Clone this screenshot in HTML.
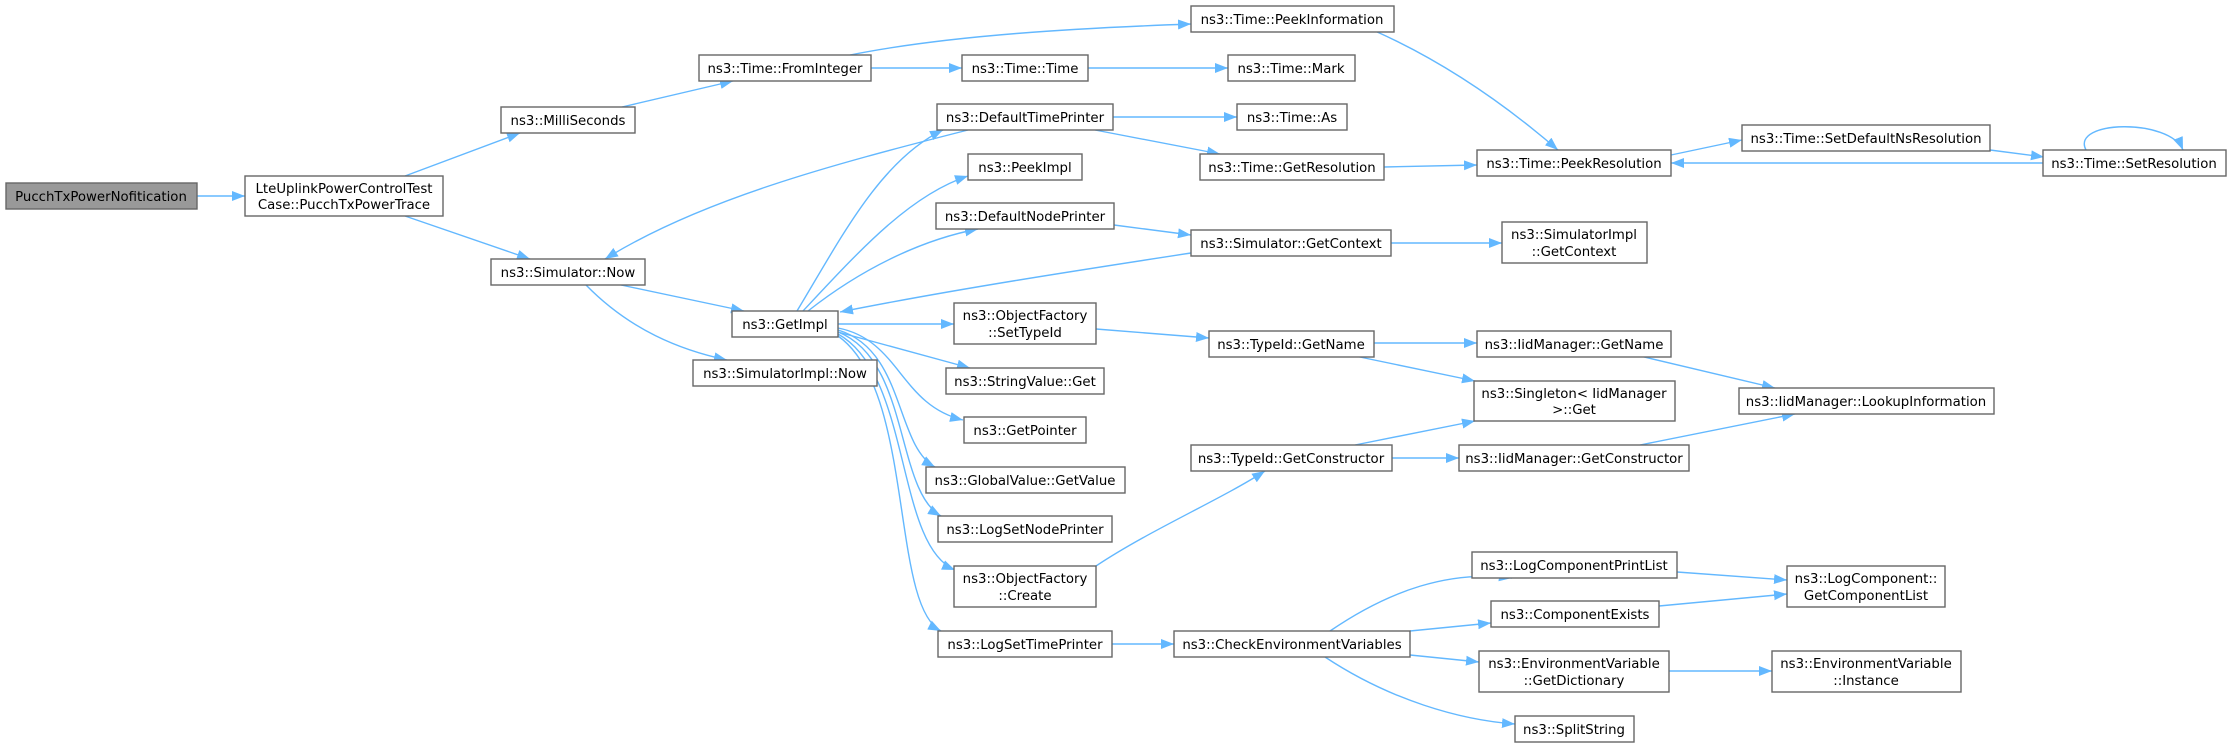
<!DOCTYPE html>
<html><head><meta charset="utf-8"><style>
html,body{margin:0;padding:0;background:#fff;}
svg{display:block;}
text{font-family:"DejaVu Sans","Liberation Sans",sans-serif;font-size:13.3px;fill:#000;text-anchor:middle;}
.b{fill:#fff;stroke:#666;stroke-width:1.4;}
.r{fill:#999;stroke:#666;stroke-width:1.4;}
.e{fill:none;stroke:#63b8ff;stroke-width:1.4;marker-end:url(#a);}
</style></head><body>
<svg width="2232" height="747" viewBox="0 0 2232 747" xmlns="http://www.w3.org/2000/svg">
<defs><marker id="a" markerUnits="userSpaceOnUse" markerWidth="14" markerHeight="12" refX="13" refY="5" orient="auto"><path d="M0,0 L13,5 L0,10 z" fill="#63b8ff"/></marker></defs>
<path class="e" d="M197,196 L245,196"/>
<path class="e" d="M405,176 L520,133"/>
<path class="e" d="M405,216 L530,259"/>
<path class="e" d="M622,107 L733,81"/>
<path class="e" d="M850,55 C950,35 1080,28 1191,24"/>
<path class="e" d="M871,68 L962,68"/>
<path class="e" d="M1088,68 L1228,68"/>
<path class="e" d="M1375,31 C1440,60 1500,100 1558,150"/>
<path class="e" d="M968,130 C830,165 700,200 605,259"/>
<path class="e" d="M1113,117 L1237,117"/>
<path class="e" d="M1095,130 L1220,154"/>
<path class="e" d="M1384,167 L1477,165"/>
<path class="e" d="M1671,155 L1742,140"/>
<path class="e" d="M1990,150 L2044,157"/>
<path class="e" d="M2044,163 L1671,163"/>
<path class="e" d="M2086,150 C2070,120 2170,118 2183,150"/>
<path class="e" d="M621,285 L744,311"/>
<path class="e" d="M586,285 C630,330 680,350 727,360"/>
<path class="e" d="M797,311 C840,240 880,160 943,130"/>
<path class="e" d="M803,311 C860,250 910,195 968,176"/>
<path class="e" d="M808,311 C860,270 920,240 978,229"/>
<path class="e" d="M1191,253 C1080,270 950,290 840,312"/>
<path class="e" d="M1114,225 L1191,235"/>
<path class="e" d="M1391,243 L1502,243"/>
<path class="e" d="M838,324 L954,324"/>
<path class="e" d="M838,332 L970,368"/>
<path class="e" d="M838,328 C900,340 900,405 963,420"/>
<path class="e" d="M838,330 C905,350 895,445 935,467"/>
<path class="e" d="M838,332 C910,360 895,490 941,516"/>
<path class="e" d="M838,334 C912,375 895,545 955,570"/>
<path class="e" d="M838,336 C915,390 890,605 941,631"/>
<path class="e" d="M1096,329 L1209,338"/>
<path class="e" d="M1374,343 L1477,343"/>
<path class="e" d="M1355,356 L1475,381"/>
<path class="e" d="M1640,356 L1775,388"/>
<path class="e" d="M1096,566 C1150,530 1220,500 1265,471"/>
<path class="e" d="M1355,445 L1475,421"/>
<path class="e" d="M1392,458 L1459,458"/>
<path class="e" d="M1640,445 L1795,414"/>
<path class="e" d="M1112,644 L1174,644"/>
<path class="e" d="M1330,631 C1390,590 1450,570 1512,578"/>
<path class="e" d="M1410,631 L1491,623"/>
<path class="e" d="M1410,655 L1479,662"/>
<path class="e" d="M1325,657 C1390,700 1460,720 1515,724"/>
<path class="e" d="M1677,572 L1787,580"/>
<path class="e" d="M1659,606 L1787,594"/>
<path class="e" d="M1669,671 L1772,671"/>
<rect class="r" x="6" y="183" width="191" height="26"/><text x="101" y="201">PucchTxPowerNofitication</text>
<rect class="b" x="245" y="176" width="198" height="40"/><text x="344" y="193">LteUplinkPowerControlTest</text><text x="344" y="209">Case::PucchTxPowerTrace</text>
<rect class="b" x="501" y="107" width="134" height="26"/><text x="568" y="125">ns3::MilliSeconds</text>
<rect class="b" x="699" y="55" width="172" height="26"/><text x="785" y="73">ns3::Time::FromInteger</text>
<rect class="b" x="491" y="259" width="154" height="26"/><text x="568" y="277">ns3::Simulator::Now</text>
<rect class="b" x="732" y="311" width="106" height="26"/><text x="785" y="329">ns3::GetImpl</text>
<rect class="b" x="693" y="360" width="184" height="26"/><text x="785" y="378">ns3::SimulatorImpl::Now</text>
<rect class="b" x="1191" y="6" width="203" height="26"/><text x="1292" y="24">ns3::Time::PeekInformation</text>
<rect class="b" x="962" y="55" width="126" height="26"/><text x="1025" y="73">ns3::Time::Time</text>
<rect class="b" x="1228" y="55" width="127" height="26"/><text x="1291" y="73">ns3::Time::Mark</text>
<rect class="b" x="937" y="104" width="176" height="26"/><text x="1025" y="122">ns3::DefaultTimePrinter</text>
<rect class="b" x="1237" y="104" width="110" height="26"/><text x="1292" y="122">ns3::Time::As</text>
<rect class="b" x="968" y="154" width="114" height="26"/><text x="1025" y="172">ns3::PeekImpl</text>
<rect class="b" x="1200" y="154" width="184" height="26"/><text x="1292" y="172">ns3::Time::GetResolution</text>
<rect class="b" x="1477" y="150" width="194" height="26"/><text x="1574" y="168">ns3::Time::PeekResolution</text>
<rect class="b" x="1742" y="125" width="248" height="26"/><text x="1866" y="143">ns3::Time::SetDefaultNsResolution</text>
<rect class="b" x="2043" y="150" width="183" height="26"/><text x="2134" y="168">ns3::Time::SetResolution</text>
<rect class="b" x="936" y="203" width="178" height="26"/><text x="1025" y="221">ns3::DefaultNodePrinter</text>
<rect class="b" x="1191" y="230" width="200" height="26"/><text x="1291" y="248">ns3::Simulator::GetContext</text>
<rect class="b" x="1502" y="222" width="145" height="41"/><text x="1574" y="239">ns3::SimulatorImpl</text><text x="1574" y="256">::GetContext</text>
<rect class="b" x="954" y="303" width="142" height="41"/><text x="1025" y="320">ns3::ObjectFactory</text><text x="1025" y="337">::SetTypeId</text>
<rect class="b" x="1209" y="331" width="165" height="26"/><text x="1291" y="349">ns3::TypeId::GetName</text>
<rect class="b" x="1477" y="331" width="194" height="26"/><text x="1574" y="349">ns3::IidManager::GetName</text>
<rect class="b" x="946" y="368" width="158" height="26"/><text x="1025" y="386">ns3::StringValue::Get</text>
<rect class="b" x="1474" y="381" width="201" height="40"/><text x="1574" y="398">ns3::Singleton&lt; IidManager</text><text x="1574" y="414">&gt;::Get</text>
<rect class="b" x="1739" y="388" width="255" height="26"/><text x="1866" y="406">ns3::IidManager::LookupInformation</text>
<rect class="b" x="964" y="417" width="122" height="26"/><text x="1025" y="435">ns3::GetPointer</text>
<rect class="b" x="1191" y="445" width="201" height="26"/><text x="1291" y="463">ns3::TypeId::GetConstructor</text>
<rect class="b" x="1459" y="445" width="230" height="26"/><text x="1574" y="463">ns3::IidManager::GetConstructor</text>
<rect class="b" x="926" y="467" width="199" height="26"/><text x="1025" y="485">ns3::GlobalValue::GetValue</text>
<rect class="b" x="938" y="516" width="174" height="26"/><text x="1025" y="534">ns3::LogSetNodePrinter</text>
<rect class="b" x="954" y="566" width="142" height="41"/><text x="1025" y="583">ns3::ObjectFactory</text><text x="1025" y="600">::Create</text>
<rect class="b" x="938" y="631" width="174" height="26"/><text x="1025" y="649">ns3::LogSetTimePrinter</text>
<rect class="b" x="1174" y="631" width="236" height="26"/><text x="1292" y="649">ns3::CheckEnvironmentVariables</text>
<rect class="b" x="1472" y="552" width="205" height="26"/><text x="1574" y="570">ns3::LogComponentPrintList</text>
<rect class="b" x="1787" y="566" width="158" height="41"/><text x="1866" y="583">ns3::LogComponent::</text><text x="1866" y="600">GetComponentList</text>
<rect class="b" x="1491" y="601" width="168" height="26"/><text x="1575" y="619">ns3::ComponentExists</text>
<rect class="b" x="1479" y="651" width="190" height="41"/><text x="1574" y="668">ns3::EnvironmentVariable</text><text x="1574" y="685">::GetDictionary</text>
<rect class="b" x="1772" y="651" width="189" height="41"/><text x="1866" y="668">ns3::EnvironmentVariable</text><text x="1866" y="685">::Instance</text>
<rect class="b" x="1515" y="716" width="119" height="26"/><text x="1574" y="734">ns3::SplitString</text>
</svg>
</body></html>
